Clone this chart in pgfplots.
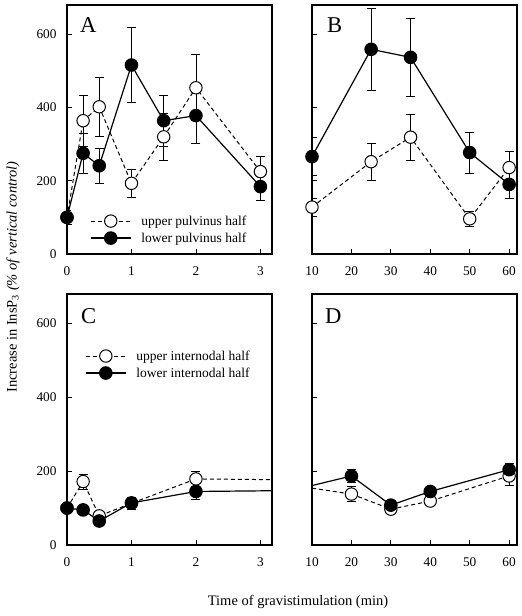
\documentclass[border=0pt]{standalone}
\usepackage{fontspec}
\setmainfont{Liberation Serif}
\usepackage{pgfplots}
\pgfplotsset{compat=1.18}
\tikzset{letter/.style={font=\fontsize{22.6}{26}\selectfont, anchor=base west, inner sep=0pt}}
\pgfplotsset{
  panel/.style={
    scale only axis, ymin=0, ymax=680, ytick={0,200,400,600},
    tick align=inside, xtick pos=bottom, ytick pos=left,
    major tick length=5pt,
    axis line style={line width=1.1pt},
    every tick/.style={black, line width=0.8pt},
    tick label style={font=\fontsize{13.3}{15}\selectfont},
    /pgf/number format/assume math mode=true,
    xticklabel style={yshift=-9pt},
    yticklabel style={xshift=-7pt},
    legend cell align=left,
    legend image code/.code={\draw[mark repeat=2,mark phase=2,##1] plot coordinates {(0pt,0pt)(20pt,0pt)(40pt,0pt)};},
  },
  eb/.style={error bars/.cd, y dir=both, y explicit,
    error bar style={line width=0.6pt, solid},
    error mark options={rotate=90, mark size=4.5pt, line width=0.6pt, solid}},
  up/.style={black, line width=1pt, dash pattern=on 4pt off 3pt, mark=*, mark size=6.2pt,
    mark options={fill=white, solid, line width=1pt}},
  lo/.style={black, line width=1.2pt, mark=*, mark size=6.2pt,
    mark options={fill=black, solid}},
}
\begin{document}
\begin{tikzpicture}
\useasboundingbox (0pt,0pt) rectangle (522pt,616pt);
% Panel A
\begin{axis}[panel, at={(67pt,362pt)}, anchor=south west, width=205pt, height=249pt,
  xmin=0, xmax=3.18, xtick={0,1,2,3},
  legend style={draw=none, fill=none, font=\fontsize{13.5}{16}\selectfont,
    at={(0.112,0.098)}, anchor=west, inner sep=0pt, column sep=8pt, row sep=2pt}]
\addplot[up, eb] coordinates {
 (0,100) +- (0,20)
 (0.25,364) +- (0,70)
 (0.5,402) +- (0,80)
 (1,193) +- (0,38)
 (1.5,320) +- (0,64)
 (2,454) +- (0,90)
 (3,225) +- (0,42)
};
\addlegendentry{upper pulvinus half}
\addplot[lo, eb] coordinates {
 (0,100) +- (0,20)
 (0.25,275) +- (0,55)
 (0.5,241) +- (0,47)
 (1,516) +- (0,103)
 (1.5,364) +- (0,70)
 (2,378) +- (0,75)
 (3,184) +- (0,37)
};
\addlegendentry{lower pulvinus half}
\node[letter] at (rel axis cs:0.063,0.888) {A};
\end{axis}
% Panel B
\begin{axis}[panel, at={(312pt,362pt)}, anchor=south west, width=205pt, height=249pt,
  xmin=10, xmax=62, xtick={10,20,30,40,50,60}, yticklabels={}]
\addplot[up, eb] coordinates {
 (10,128) +- (0,25)
 (25,252) +- (0,50)
 (35,319) +- (0,63)
 (50,96) +- (0,20)
 (60,236) +- (0,45)
};
\addplot[lo, eb] coordinates {
 (10,266) +- (0,52)
 (25,559) +- (0,112)
 (35,537) +- (0,107)
 (50,277) +- (0,56)
 (60,190) +- (0,39)
};
\node[letter] at (rel axis cs:0.073,0.888) {B};
\end{axis}
% Panel C
\begin{axis}[panel, at={(67pt,71pt)}, anchor=south west, width=205pt, height=251pt,
  xmin=0, xmax=3.18, xtick={0,1,2,3},
  legend style={draw=none, fill=none, font=\fontsize{13.5}{16}\selectfont,
    at={(0.088,0.719)}, anchor=west, inner sep=0pt, column sep=8pt, row sep=2pt}]
\addplot[up, eb] coordinates {
 (0,100) +- (0,8)
 (0.25,172) +- (0,20)
 (0.5,79) +- (0,8)
 (1,113) +- (0,10)
 (2,179) +- (0,20)
};
\addlegendentry{upper internodal half}
\addplot[lo, eb] coordinates {
 (0,100) +- (0,8)
 (0.25,95) +- (0,8)
 (0.5,65) +- (0,6)
 (1,114) +- (0,16)
 (2,145) +- (0,21)
};
\addlegendentry{lower internodal half}
\addplot[black, line width=1pt, dash pattern=on 4pt off 3pt, forget plot] coordinates {(2,179) (3.18,177)};
\addplot[black, line width=1.2pt, forget plot] coordinates {(2,145) (3.18,147)};
\node[letter] at (rel axis cs:0.068,0.884) {C};
\end{axis}
% Panel D
\begin{axis}[panel, at={(312pt,71pt)}, anchor=south west, width=205pt, height=251pt,
  xmin=10, xmax=62, xtick={10,20,30,40,50,60}, yticklabels={}]
\addplot[black, line width=1pt, dash pattern=on 4pt off 3pt, forget plot] coordinates {(10,154) (20,138)};
\addplot[black, line width=1.2pt, forget plot] coordinates {(10,161) (20,187)};
\addplot[up, eb] coordinates {
 (20,138) +- (0,20)
 (30,97) +- (0,8)
 (40,119) +- (0,10)
 (60,187) +- (0,25)
};
\addplot[lo, eb] coordinates {
 (20,187) +- (0,18)
 (30,108) +- (0,8)
 (40,145) +- (0,8)
 (60,204) +- (0,18)
};
\node[letter] at (rel axis cs:0.063,0.884) {D};
\end{axis}
\node[rotate=90, font=\fontsize{14.5}{17}\selectfont] at (13pt,339pt)
  {Increase in InsP\textsubscript{3} \textit{(\% of vertical control)}};
\node[font=\fontsize{14.5}{17}\selectfont] at (298pt,14pt) {Time of gravistimulation (min)};
\end{tikzpicture}
\end{document}
